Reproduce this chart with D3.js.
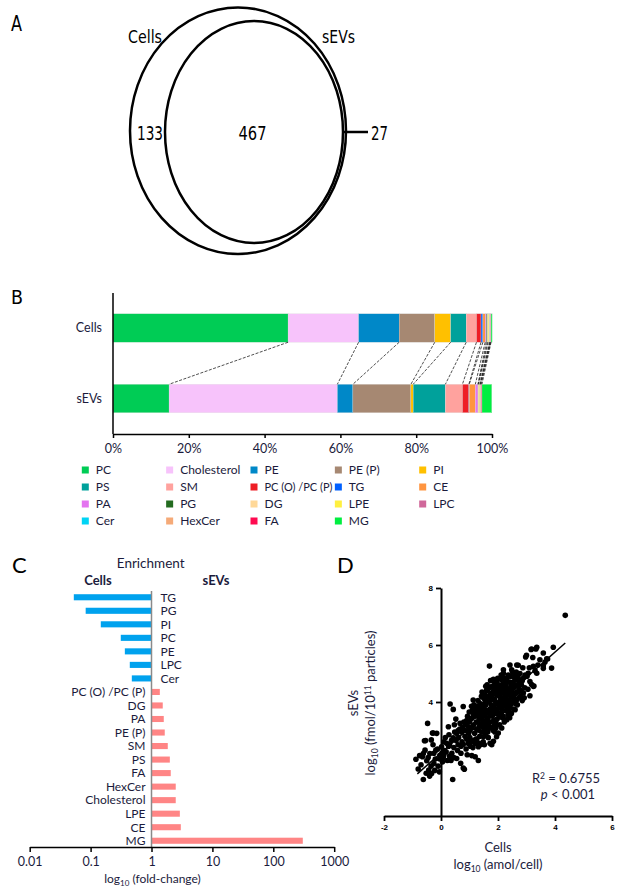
<!DOCTYPE html>
<html>
<head>
  <title>Lipidomics figure</title>
  <script src="https://d3js.org/d3.v7.min.js"></script>
  <style>
    body { margin: 0; background: #fff; }
  </style>
</head>
<body>
  <script>
    // ---------- data ----------
    // A: venn counts
    const vennSets = ["Cells", "sEVs"];
    const vennCounts = [133, 467, 27]; // cells only, shared, sEVs only

    // B: lipid class composition (% of total)
    const lipidClasses = ["PC", "Cholesterol", "PE", "PE (P)", "PI", "PS", "SM", "PC (O) /PC (P)", "TG", "CE",
                          "PA", "PG", "DG", "LPE", "LPC", "Cer", "HexCer", "FA", "MG"];
    const classColors = ["#00cc55", "#f7c3fb", "#0088c8", "#a68872", "#ffc000", "#00a19b", "#ffa29e", "#ee1d25", "#0060ff", "#ff9540",
                         "#e474f0", "#236b20", "#ffd898", "#fff040", "#d0689a", "#00d4f5", "#f5aa78", "#ff0a50", "#00ee40"];
    const barGroups = ["Cells", "sEVs"];
    const cellsPct = [46.2, 18.6, 10.7, 9.4, 4.2, 4.1, 2.7, 1.2, 0.5, 0.6, 0.3, 0.3, 0.2, 0.35, 0.1, 0.1, 0.1, 0.1, 0.3];
    const sevsPct  = [14.8, 44.4, 4.1, 15.3, 0.6, 8.5, 4.5, 1.7, 0.1, 1.6, 0.7, 0.05, 0.1, 0.35, 0.1, 0.05, 0.2, 0.2, 2.6];
    const pctTicks = [0, 20, 40, 60, 80, 100];

    // C: enrichment (fold-change sEVs / cells)
    const enrichCats = ["TG", "PG", "PI", "PC", "PE", "LPC", "Cer", "PC (O) /PC (P)", "DG", "PA", "PE (P)", "SM",
                        "PS", "FA", "HexCer", "Cholesterol", "LPE", "CE", "MG"];
    const enrichFold = [0.053, 0.083, 0.147, 0.313, 0.365, 0.44, 0.475, 1.37, 1.53, 1.59, 1.65, 1.85,
                        2.0, 2.07, 2.5, 2.5, 2.92, 3.03, 305];
    const foldTicks = [0.01, 0.1, 1, 10, 100, 1000];

    // D: per-species abundance, log10 cells vs log10 sEVs
    const scatterPoints = [
      [-0.88,1.99],[-0.75,2.12],[-0.62,1.28],[-0.65,2.08],[-0.58,2.64],[-0.47,3.25],[-0.5,1.94],[-0.43,1.61],
      [-0.33,1.49],[-0.3,2.91],[-0.25,1.84],[-0.15,2.9],[-0.18,2.31],[-0.39,2.19],[-0.56,2.31],[-0.06,1.55],
      [-0.04,2.13],[-0.2,2.0],[-0.1,1.75],[-0.35,1.75],[-0.7,1.8],[-0.8,1.65],[-0.45,2.05],[-0.28,2.5],
      [-0.12,2.35],[-0.52,1.5],[-0.4,1.4],[-0.22,1.6],[-0.54,2.65],[-0.34,2.67],[-0.27,2.91],[-0.62,2.19],
      [-0.05,2.0],[-0.25,2.2],
      [0.05,1.9],[0.12,2.3],[0.02,2.43],[0.18,2.25],[0.1,2.6],[0.2,2.55],[0.08,2.05],[0.22,1.95],[0.15,2.75],[0.03,2.2],
      [0.1,2.15],
      [0.26,3.13],[0.32,3.93],[0.43,3.74],[0.37,2.66],[0.41,1.28],[0.3,2.1],[0.45,2.4],[0.28,2.85],[0.38,2.2],
      [0.48,2.95],[0.35,1.95],[0.43,2.74],[0.47,3.2],[0.27,2.45],[0.45,2.05],[0.3,2.5],
      [0.55,2.9],[0.55,2.02],[0.67,3.25],[0.6,2.5],[0.7,2.2],[0.62,2.75],[0.52,3.4],[0.72,2.95],[0.58,2.3],
      [0.66,3.05],[0.74,2.6],[0.53,2.65],[0.69,1.85],[0.7,2.45],[0.6,3.0],
      [0.78,2.51],[0.78,3.84],[0.82,1.64],[0.78,1.68],[0.85,3.0],[0.9,2.7],[0.96,3.13],[0.8,3.3],[0.88,2.35],
      [0.93,3.5],[0.97,2.9],[0.84,2.8],[0.92,2.15],[0.99,3.65],[0.76,3.1],[0.87,3.2],[0.95,2.55],[0.9,3.35],
      [1.13,4.07],[1.13,2.66],[1.2,2.08],[1.08,2.12],[1.02,3.0],[1.05,3.4],[1.1,3.7],[1.15,3.2],[1.18,2.9],
      [1.22,3.5],[1.03,2.45],[1.07,3.85],[1.12,2.4],[1.16,3.9],[1.24,3.3],[1.01,2.75],[1.19,3.65],[1.09,3.1],
      [1.23,2.7],[1.14,3.55],[1.31,1.95],[1.0,3.3],[1.05,2.6],[1.1,3.45],[1.2,3.8],[1.25,3.05],[1.2,2.55],
      [1.31,2.43],[1.31,3.01],[1.37,3.95],[1.28,3.3],[1.33,3.6],[1.36,2.8],[1.4,3.2],[1.42,4.2],[1.45,3.5],
      [1.48,2.6],[1.27,3.85],[1.3,4.05],[1.38,3.75],[1.43,2.95],[1.47,3.9],[1.26,2.7],[1.35,3.4],[1.44,4.35],
      [1.49,3.1],[1.39,2.5],[1.46,3.7],[1.29,3.55],[1.3,3.7],[1.35,3.15],[1.4,3.9],[1.45,3.25],[1.42,3.4],
      [1.33,2.55],[1.36,3.55],
      [1.5,4.13],[1.54,4.25],[1.49,2.78],[1.72,2.55],[1.7,5.26],[1.52,3.3],[1.55,3.6],[1.58,3.9],[1.6,4.4],
      [1.62,3.0],[1.65,3.45],[1.68,4.0],[1.7,4.5],[1.72,3.75],[1.56,2.9],[1.59,3.2],[1.63,4.2],[1.66,2.75],
      [1.73,3.3],[1.51,3.8],[1.57,4.55],[1.69,3.6],[1.61,3.7],[1.74,4.3],[1.53,3.5],[1.64,2.95],[1.5,3.6],
      [1.55,4.0],[1.6,3.35],[1.65,4.45],[1.7,3.1],[1.58,3.05],[1.62,4.6],[1.52,2.5],[1.66,3.2],[1.57,4.1],
      [1.78,4.54],[1.86,3.84],[1.84,2.62],[1.78,2.5],[1.95,2.78],[1.99,4.83],[1.95,4.72],[1.76,3.1],[1.8,3.5],
      [1.82,4.1],[1.85,4.4],[1.88,3.2],[1.9,3.6],[1.92,4.0],[1.94,4.6],[1.97,3.4],[1.77,3.9],[1.83,3.0],
      [1.87,4.7],[1.91,3.75],[1.96,4.25],[1.79,4.25],[1.89,2.95],[1.98,3.65],[1.81,3.7],[1.93,3.1],[1.86,4.55],
      [1.75,4.1],[1.8,3.85],[1.85,3.35],[1.9,4.3],[1.95,3.95],[1.76,3.6],[1.84,4.8],[1.92,3.3],[1.88,4.1],
      [1.98,4.5],[1.74,4.75],
      [2.07,3.48],[2.01,2.91],[2.13,3.09],[2.19,5.13],[2.19,5.01],[2.03,3.8],[2.05,4.2],[2.08,4.5],[2.1,4.8],
      [2.12,3.6],[2.15,4.0],[2.17,4.35],[2.2,4.65],[2.22,3.3],[2.24,3.9],[2.02,4.6],[2.06,3.2],[2.11,4.95],
      [2.14,3.75],[2.18,4.15],[2.23,4.5],[2.09,4.05],[2.16,3.45],[2.21,4.85],[2.04,4.4],[2.13,4.6],[2.0,4.4],
      [2.05,3.6],[2.1,4.3],[2.15,3.85],[2.2,4.1],[2.08,3.9],[2.18,3.5],[2.02,3.55],[2.12,4.45],
      [2.31,3.38],[2.31,4.83],[2.42,5.3],[2.48,5.13],[2.48,4.42],[2.27,3.7],[2.3,4.1],[2.33,4.45],[2.35,3.55],
      [2.38,4.0],[2.4,4.7],[2.43,3.8],[2.45,4.2],[2.47,3.6],[2.28,4.6],[2.36,4.95],[2.39,4.3],[2.44,4.9],
      [2.26,4.25],[2.34,3.9],[2.41,3.45],[2.49,4.6],[2.25,4.7],[2.3,3.85],[2.35,4.25],[2.4,4.05],[2.45,4.55],
      [2.28,4.35],[2.38,3.7],[2.48,3.95],[2.26,3.95],[2.42,4.45],
      [2.6,3.73],[2.66,4.08],[2.66,5.3],[2.65,4.77],[2.71,5.29],[2.52,4.0],[2.55,4.5],[2.58,4.85],[2.62,4.3],
      [2.68,3.9],[2.7,4.6],[2.73,4.15],[2.56,3.75],[2.64,5.05],[2.53,4.7],[2.6,4.95],[2.74,4.45],[2.51,5.05],
      [2.5,4.3],[2.55,4.15],[2.6,4.55],[2.65,4.35],[2.7,4.9],[2.58,4.6],[2.62,3.95],[2.72,4.35],
      [2.77,5.0],[2.77,4.78],[2.89,4.32],[2.97,5.58],[2.8,4.4],[2.85,4.05],[2.82,4.6],[2.9,4.85],[2.94,4.5],
      [2.87,5.2],[2.79,4.2],[2.92,4.15],[2.75,4.7],[2.85,4.75],[2.95,4.95],
      [3.0,5.64],[3.06,5.01],[3.12,4.72],[3.12,4.22],[3.18,4.61],[3.18,5.86],[3.16,5.84],[3.22,5.56],[3.24,5.25],
      [3.24,4.55],[3.26,4.56],[3.36,5.01],[3.33,5.86],[3.36,5.92],[3.47,5.48],[3.05,4.45],[3.1,5.2],[3.3,5.1],
      [3.4,5.3],[3.02,4.9],
      [3.59,5.72],[3.59,5.27],[3.59,5.18],[3.71,5.52],[3.74,5.51],[3.88,5.19],[3.94,5.92],[4.36,7.04],[3.65,5.4]
    ];
    const fitLineX = [-0.83, 4.36];
    const fitLineY = [1.48, 6.07];
    const xTicksD = [-2, 0, 2, 4, 6];
    const yTicksD = [4, 6, 8];

    // ---------- setup ----------
    const svg = d3.select("body")
      .append("svg")
      .attr("width", 623)
      .attr("height", 892);

    const narrow = "'Liberation Sans Narrow', 'DejaVu Sans Condensed', 'Liberation Sans', sans-serif";
    const calib = "Lato, 'Open Sans', sans-serif";
    const navy = "#1b1b3c";

    function panelLetter(txt, x, y, font, size, w) {
      const t = svg.append("text").attr("x", x).attr("y", y).text(txt)
        .attr("font-family", font).attr("font-size", size).attr("fill", "#000");
      if (w) t.attr("textLength", w).attr("lengthAdjust", "spacingAndGlyphs");
    }

    // ---------- A: venn ----------
    panelLetter("A", 11, 31, narrow, 21, 11);
    const venn = svg.append("g");
    venn.append("ellipse").attr("cx", 238).attr("cy", 130.7).attr("rx", 108).attr("ry", 123.3)
      .attr("fill", "none").attr("stroke", "#000").attr("stroke-width", 2.5);
    venn.append("ellipse").attr("cx", 254).attr("cy", 132).attr("rx", 89).attr("ry", 111)
      .attr("fill", "none").attr("stroke", "#000").attr("stroke-width", 2.5);
    venn.append("line").attr("x1", 344).attr("x2", 368).attr("y1", 132).attr("y2", 132)
      .attr("stroke", "#000").attr("stroke-width", 2.5);
    [[128, 34], [322, 33]].forEach((p, i) => {
      venn.append("text").attr("x", p[0]).attr("y", 43).text(vennSets[i])
        .attr("font-family", narrow).attr("font-size", 18)
        .attr("textLength", p[1]).attr("lengthAdjust", "spacingAndGlyphs");
    });
    [[137, 26], [238.5, 28], [371, 17]].forEach((p, i) => {
      venn.append("text").attr("x", p[0]).attr("y", 140)
        .text(vennCounts[i]).attr("font-family", narrow).attr("font-size", 20)
        .attr("textLength", p[1]).attr("lengthAdjust", "spacingAndGlyphs");
    });

    // ---------- B: stacked composition ----------
    panelLetter("B", 11, 304, narrow, 20, 12);
    const rows = barGroups.map((g, gi) => {
      const r = { group: g };
      lipidClasses.forEach((c, i) => { r[c] = gi === 0 ? cellsPct[i] : sevsPct[i]; });
      return r;
    });
    const stacked = d3.stack().keys(lipidClasses)(rows);

    const xB = d3.scaleLinear().domain([0, 100]).range([113, 492]);
    const yB = d3.scalePoint().domain(barGroups).range([328, 398.5]);
    const barH = 28.5;
    const colorB = d3.scaleOrdinal().domain(lipidClasses).range(classColors);

    const gB = svg.append("g");
    stacked.forEach(layer => {
      gB.selectAll(null)
        .data(layer)
        .enter()
        .append("rect")
        .attr("x", d => xB(d[0]))
        .attr("width", d => Math.max(0, xB(d[1]) - xB(d[0])))
        .attr("y", d => yB(d.data.group) - barH / 2)
        .attr("height", barH)
        .attr("fill", colorB(layer.key))
        .attr("stroke", "#dcdcdc")
        .attr("stroke-width", 0.3);
    });

    // connecting dashed lines between segment ends
    stacked.slice(0, -1).forEach(layer => {
      gB.append("line")
        .attr("x1", xB(layer[0][1])).attr("y1", yB("Cells") + barH / 2)
        .attr("x2", xB(layer[1][1])).attr("y2", yB("sEVs") - barH / 2)
        .attr("stroke", "#222").attr("stroke-width", 0.8).attr("stroke-dasharray", "3,1.5");
    });

    gB.append("line").attr("x1", 113).attr("x2", 113).attr("y1", 293).attr("y2", 434)
      .attr("stroke", "#000").attr("stroke-width", 1.5);
    const axB = gB.append("g").attr("transform", "translate(0,434)")
      .call(d3.axisBottom(xB).tickValues(pctTicks).tickFormat(d => d + "%").tickSize(4).tickSizeOuter(0));
    axB.select(".domain").attr("stroke-width", 1.5);
    axB.selectAll(".tick line").attr("stroke-width", 1.5);
    axB.selectAll(".tick text").attr("font-family", calib).attr("font-size", 12.5)
      .attr("fill", navy).attr("dy", "1em").attr("y", 6);

    gB.selectAll(".glabel")
      .data(barGroups)
      .enter()
      .append("text")
      .attr("x", 102)
      .attr("y", d => yB(d))
      .attr("dy", "0.35em")
      .attr("text-anchor", "end")
      .attr("font-family", calib).attr("font-size", 12.5).attr("fill", navy)
      .text(d => d);

    // legend
    const leg = gB.selectAll(".leg")
      .data(lipidClasses)
      .enter()
      .append("g")
      .attr("transform", (d, i) => `translate(${85.3 + (i % 5) * 84.35},${470 + Math.floor(i / 5) * 17})`);
    leg.append("rect").attr("x", -3.5).attr("y", -3.5).attr("width", 7).attr("height", 7)
      .attr("fill", d => colorB(d));
    leg.append("text").attr("x", 10.5).attr("dy", "0.36em")
      .attr("font-family", calib).attr("font-size", 12).attr("fill", navy)
      .text(d => d)
      .each(function(d) {
        if (d === "PC (O) /PC (P)") d3.select(this).attr("textLength", 68).attr("lengthAdjust", "spacingAndGlyphs");
      });

    // ---------- C: enrichment ----------
    panelLetter("C", 12, 573, calib, 22);
    const gC = svg.append("g");
    const xC = d3.scaleLog().domain([0.01, 1000]).range([29.7, 334.2]);
    const yC = d3.scaleBand().domain(enrichCats).range([590.5, 847.5]).paddingInner(0.55).paddingOuter(0.275);

    gC.append("text").attr("x", 150.7).attr("y", 568).attr("text-anchor", "middle")
      .attr("font-family", calib).attr("font-size", 13.5).attr("fill", navy).text("Enrichment");
    gC.append("text").attr("x", 98).attr("y", 585).attr("text-anchor", "middle")
      .attr("font-family", calib).attr("font-size", 13).attr("font-weight", "bold").attr("fill", navy).text("Cells");
    gC.append("text").attr("x", 216).attr("y", 585).attr("text-anchor", "middle")
      .attr("font-family", calib).attr("font-size", 13).attr("font-weight", "bold").attr("fill", navy).text("sEVs");

    gC.selectAll(".ebar")
      .data(enrichCats)
      .enter()
      .append("rect")
      .attr("x", (d, i) => Math.min(xC(1), xC(enrichFold[i])))
      .attr("width", (d, i) => Math.abs(xC(enrichFold[i]) - xC(1)))
      .attr("y", d => yC(d))
      .attr("height", yC.bandwidth())
      .attr("fill", (d, i) => enrichFold[i] < 1 ? "#00a2ee" : "#ff8585");

    gC.selectAll(".elab")
      .data(enrichCats)
      .enter()
      .append("text")
      .attr("x", (d, i) => enrichFold[i] < 1 ? xC(1) + 9 : xC(1) - 6)
      .attr("y", d => yC(d) + yC.bandwidth() / 2)
      .attr("dy", "0.36em")
      .attr("text-anchor", (d, i) => enrichFold[i] < 1 ? "start" : "end")
      .attr("font-family", calib).attr("font-size", 12).attr("fill", navy)
      .text(d => d);

    gC.append("line").attr("x1", xC(1)).attr("x2", xC(1)).attr("y1", 591).attr("y2", 847)
      .attr("stroke", "#8a8a8a").attr("stroke-width", 1.5);

    const axC = gC.append("g").attr("transform", "translate(0,847)")
      .call(d3.axisBottom(xC).tickValues(foldTicks).tickFormat(d3.format("~g")).tickSize(5).tickSizeOuter(0));
    axC.select(".domain").attr("stroke-width", 1.5);
    axC.selectAll(".tick line").attr("stroke-width", 1.5);
    axC.selectAll(".tick text").attr("font-family", calib).attr("font-size", 12.5)
      .attr("fill", navy).attr("y", 10);

    const tC = gC.append("text").attr("x", 152.5).attr("y", 883).attr("text-anchor", "middle")
      .attr("font-family", calib).attr("font-size", 12).attr("fill", navy);
    tC.append("tspan").text("log");
    tC.append("tspan").attr("font-size", 8).attr("dy", 2.5).text("10");
    tC.append("tspan").attr("dy", -2.5).text(" (fold-change)");

    // ---------- D: scatter ----------
    panelLetter("D", 337, 573, calib, 22);
    const gD = svg.append("g");
    const xD = d3.scaleLinear().domain([-2, 6]).range([384, 612]);
    const yD = d3.scaleLinear().domain([0, 8]).range([816, 588]);

    const axXD = gD.append("g").attr("transform", `translate(0,${yD(0)})`)
      .call(d3.axisBottom(xD).tickValues(xTicksD).tickFormat(d => String(d)).tickSize(5).tickSizeOuter(0));
    const axYD = gD.append("g").attr("transform", `translate(${xD(0)},0)`)
      .call(d3.axisLeft(yD).tickValues(yTicksD).tickFormat(d => String(d)).tickSize(5).tickSizeOuter(0));
    [axXD, axYD].forEach(a => {
      a.select(".domain").attr("stroke-width", 2);
      a.selectAll(".tick line").attr("stroke-width", 1.8);
      a.selectAll(".tick text").attr("font-family", "'Liberation Sans', Arial, sans-serif")
        .attr("font-size", 8).attr("font-weight", "bold").attr("fill", "#000");
    });
    axXD.selectAll(".tick text").attr("y", 8);

    gD.selectAll(".pt")
      .data(scatterPoints)
      .enter()
      .append("circle")
      .attr("cx", d => xD(d[0]))
      .attr("cy", d => yD(d[1]))
      .attr("r", 2.8)
      .attr("fill", "#000");

    gD.append("line")
      .attr("x1", xD(fitLineX[0])).attr("y1", yD(fitLineY[0]))
      .attr("x2", xD(fitLineX[1])).attr("y2", yD(fitLineY[1]))
      .attr("stroke", "#000").attr("stroke-width", 1.5);

    gD.append("text").attr("x", 498).attr("y", 852).attr("text-anchor", "middle")
      .attr("font-family", calib).attr("font-size", 13).attr("fill", navy).text("Cells");
    const tDx = gD.append("text").attr("x", 498).attr("y", 869).attr("text-anchor", "middle")
      .attr("font-family", calib).attr("font-size", 13).attr("fill", navy);
    tDx.append("tspan").text("log");
    tDx.append("tspan").attr("font-size", 8.5).attr("dy", 2.5).text("10");
    tDx.append("tspan").attr("dy", -2.5).text(" (amol/cell)");

    gD.append("text").attr("transform", "translate(358,703) rotate(-90)").attr("text-anchor", "middle")
      .attr("font-family", calib).attr("font-size", 13).attr("fill", navy).text("sEVs");
    const tDy = gD.append("text").attr("transform", "translate(375,703) rotate(-90)").attr("text-anchor", "middle")
      .attr("font-family", calib).attr("font-size", 13).attr("fill", navy);
    tDy.append("tspan").text("log");
    tDy.append("tspan").attr("font-size", 8.5).attr("dy", 2.5).text("10");
    tDy.append("tspan").attr("dy", -2.5).text(" (fmol/10");
    tDy.append("tspan").attr("font-size", 8.5).attr("dy", -4).text("11");
    tDy.append("tspan").attr("dy", 4).text(" particles)");

    const tR = gD.append("text").attr("x", 600).attr("y", 783).attr("text-anchor", "end")
      .attr("font-family", calib).attr("font-size", 13).attr("fill", navy);
    tR.append("tspan").text("R");
    tR.append("tspan").attr("font-size", 8.5).attr("dy", -4).text("2");
    tR.append("tspan").attr("dy", 4).text(" = 0.6755");
    const tP = gD.append("text").attr("x", 568).attr("y", 799).attr("text-anchor", "middle")
      .attr("font-family", calib).attr("font-size", 13).attr("fill", navy);
    tP.append("tspan").attr("font-style", "italic").text("p");
    tP.append("tspan").text(" < 0.001");
  </script>
</body>
</html>
